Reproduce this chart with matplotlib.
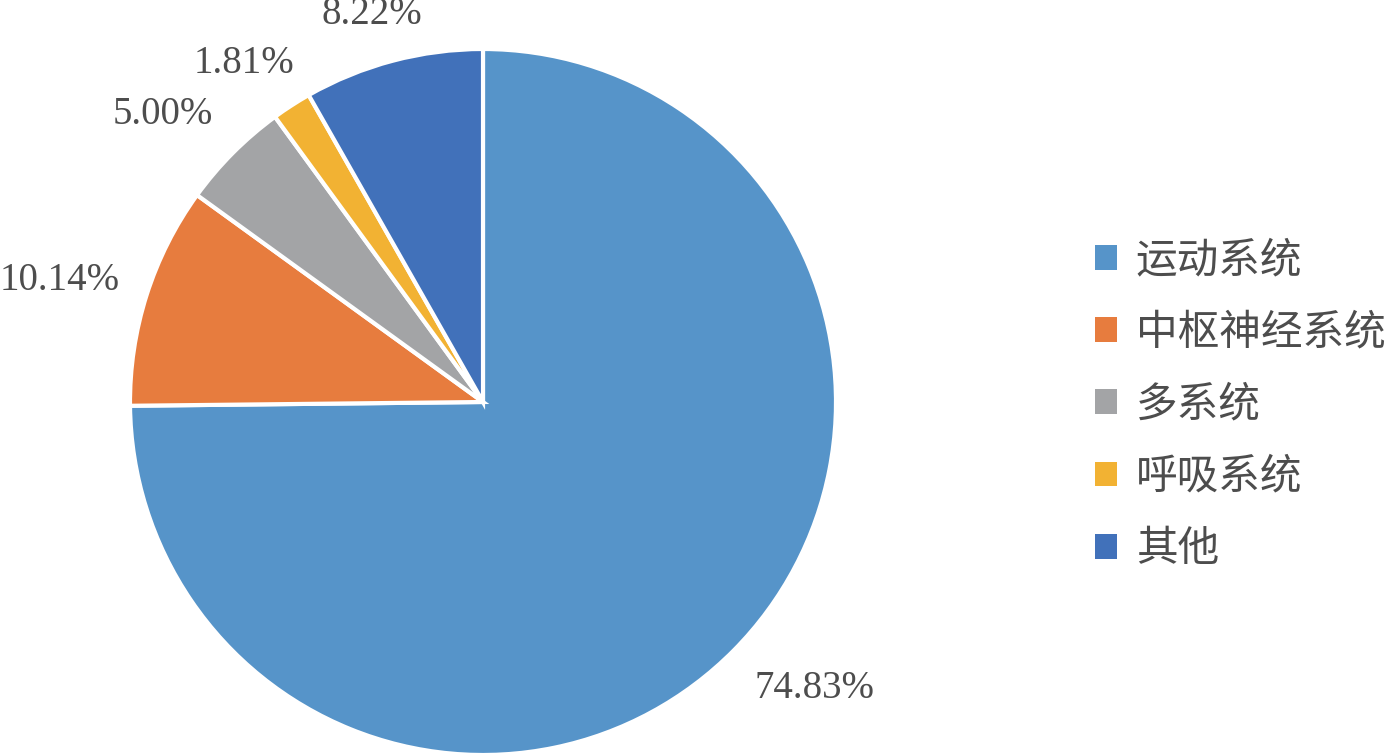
import matplotlib
matplotlib.use("Agg")
import matplotlib.pyplot as plt
import numpy as np
from matplotlib.patches import Patch

categories = ["运动系统", "中枢神经系统", "多系统", "呼吸系统", "其他"]
values = [74.83, 10.14, 5.00, 1.81, 8.22]
colors = ["#5694C9", "#E77C3E", "#A3A4A6", "#F2B233", "#4171BA"]

plt.rcParams['font.family'] = ['Noto Sans CJK SC', 'DejaVu Sans']

fig = plt.figure(figsize=(13.86, 7.55), dpi=100)
ax = fig.add_axes([130/1386, 0.0, 706/1386, 706/755])
wedges, texts, autotexts = ax.pie(
    values, colors=colors, startangle=90, counterclock=False,
    autopct=lambda p: f"{p:.2f}%", pctdistance=1.08,
    wedgeprops=dict(edgecolor="white", linewidth=3),
    textprops=dict(family="Liberation Serif", fontsize=28, color="#4D4D4D"),
)
ax.set_aspect("equal")
ax.set_xlim(-1, 1)
ax.set_ylim(-1, 1)

# outside-end label placement: box edge touches anchor point beyond the pie
fig.canvas.draw()
renderer = fig.canvas.get_renderer()
inv = ax.transData.inverted()
for w, t in zip(wedges, autotexts):
    t.set_clip_on(False)
    ang = np.deg2rad((w.theta1 + w.theta2) / 2)
    c, s = np.cos(ang), np.sin(ang)
    m = max(abs(c), abs(s))
    cx, cy = c / m, s / m
    bb = t.get_window_extent(renderer)
    anchor = ax.transData.transform((1.08 * c, 1.08 * s))
    center = anchor + np.array([bb.width / 2 * cx, bb.height / 2 * cy])
    t.set_position(inv.transform(center))
    t.set_ha("center")
    t.set_va("center")

handles = [Patch(facecolor=c, edgecolor="none") for c in colors]
leg = fig.legend(handles, categories, loc="center left",
                 bbox_to_anchor=(1095/1386, 350/755), frameon=False,
                 prop=dict(family="Noto Sans CJK SC", size=30),
                 labelcolor="#4D4D4D", handlelength=0.53, handleheight=0.53,
                 handletextpad=0.45, labelspacing=0.75, borderpad=0,
                 borderaxespad=0)
fig.savefig("out.png", dpi=100, facecolor="white")
